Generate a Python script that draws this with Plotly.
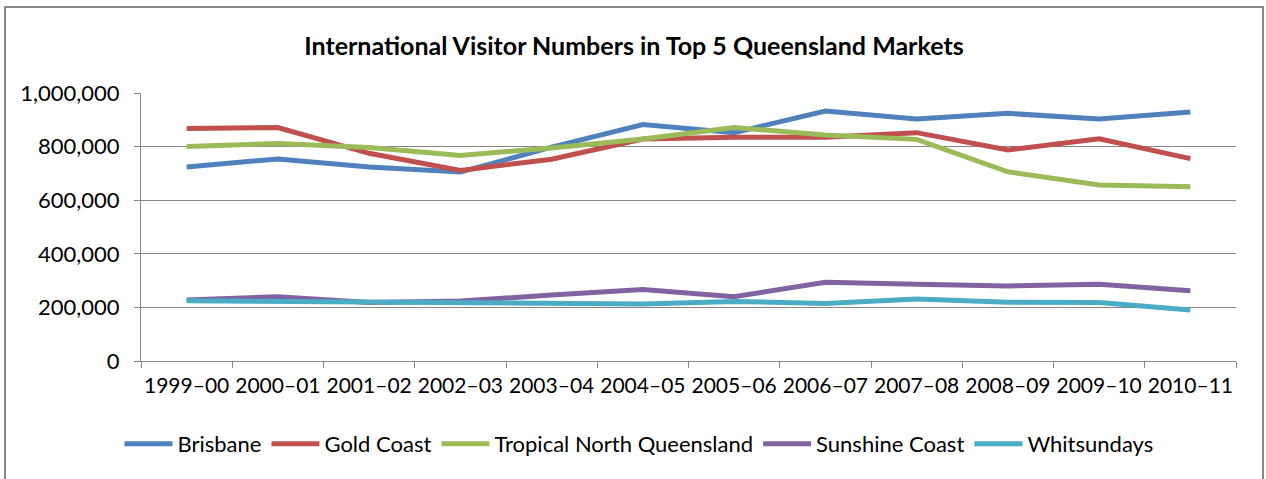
import plotly.graph_objects as go

categories = ["1999–00", "2000–01", "2001–02", "2002–03", "2003–04", "2004–05",
              "2005–06", "2006–07", "2007–08", "2008–09", "2009–10", "2010–11"]
brisbane = [724000, 754000, 724000, 705000, 798000, 882000, 852000, 933000, 903000, 924000, 903000, 929000]
gold_coast = [868000, 871000, 775000, 711000, 753000, 828000, 835000, 835000, 852000, 787000, 829000, 755000]
tropical_nq = [800000, 812000, 797000, 767000, 795000, 828000, 871000, 843000, 827000, 706000, 657000, 650000]
sunshine_coast = [228000, 240000, 218000, 224000, 246000, 267000, 240000, 294000, 286000, 280000, 286000, 262000]
whitsundays = [225000, 222000, 220000, 215000, 213000, 213000, 222000, 215000, 231000, 219000, 218000, 190000]

series = [
    ("Brisbane", brisbane, "#4F81BD"),
    ("Gold Coast", gold_coast, "#C0504D"),
    ("Tropical North Queensland", tropical_nq, "#9BBB59"),
    ("Sunshine Coast", sunshine_coast, "#8064A2"),
    ("Whitsundays", whitsundays, "#4BACC6"),
]

FONT = "Lato"
fig = go.Figure()
for name, vals, col in series:
    fig.add_trace(go.Scatter(x=categories, y=vals, name=name, mode="lines",
                             line=dict(color=col, width=5)))

W, H = 1266, 479
L, R, T, B = 141, 30, 93, 118
pw, ph = W - L - R, H - T - B

def px_x(p):
    return (p - L) / pw

def px_y(p):
    return (H - B - p) / ph

fig.update_layout(
    width=W, height=H,
    margin=dict(l=L, r=R, t=T, b=B, autoexpand=False),
    paper_bgcolor="white", plot_bgcolor="white",
    font=dict(family=FONT, size=21, color="#000000"),
    title=dict(text="<b>International Visitor Numbers in Top 5 Queensland Markets</b>",
               x=634 / W, xref="container", xanchor="center",
               y=1 - 46 / H, yanchor="middle",
               font=dict(family=FONT, size=25, color="#000000")),
    showlegend=True,
    legend=dict(orientation="h", x=639 / W, xanchor="center", xref="container",
                y=1 - 444 / H, yref="container", yanchor="middle",
                font=dict(family=FONT, size=22), bgcolor="rgba(0,0,0,0)",
                itemwidth=48),
    xaxis=dict(type="category", range=[-0.5, 11.5], tickson="boundaries",
               ticks="outside", ticklen=6, tickcolor="#868686", tickwidth=1,
               showline=True, linecolor="#868686", linewidth=1,
               showgrid=False, zeroline=False, tickangle=0, automargin=False,
               tickfont=dict(family=FONT, size=21), ticklabelstandoff=6),
    yaxis=dict(range=[0, 1000000], dtick=200000, tickformat=",",
               ticks="outside", ticklen=6, tickcolor="#868686", tickwidth=1,
               showline=True, linecolor="#868686", linewidth=1,
               showgrid=True, gridcolor="#868686", gridwidth=1, automargin=False,
               zeroline=False, tickfont=dict(family=FONT, size=22),
               ticklabelstandoff=10),
    shapes=[dict(type="rect", xref="paper", yref="paper",
                 x0=px_x(5), x1=px_x(1263), y0=px_y(490), y1=px_y(7),
                 line=dict(color="#888888", width=2), fillcolor="rgba(0,0,0,0)",
                 layer="below")],
)

fig.write_html("out.html")
